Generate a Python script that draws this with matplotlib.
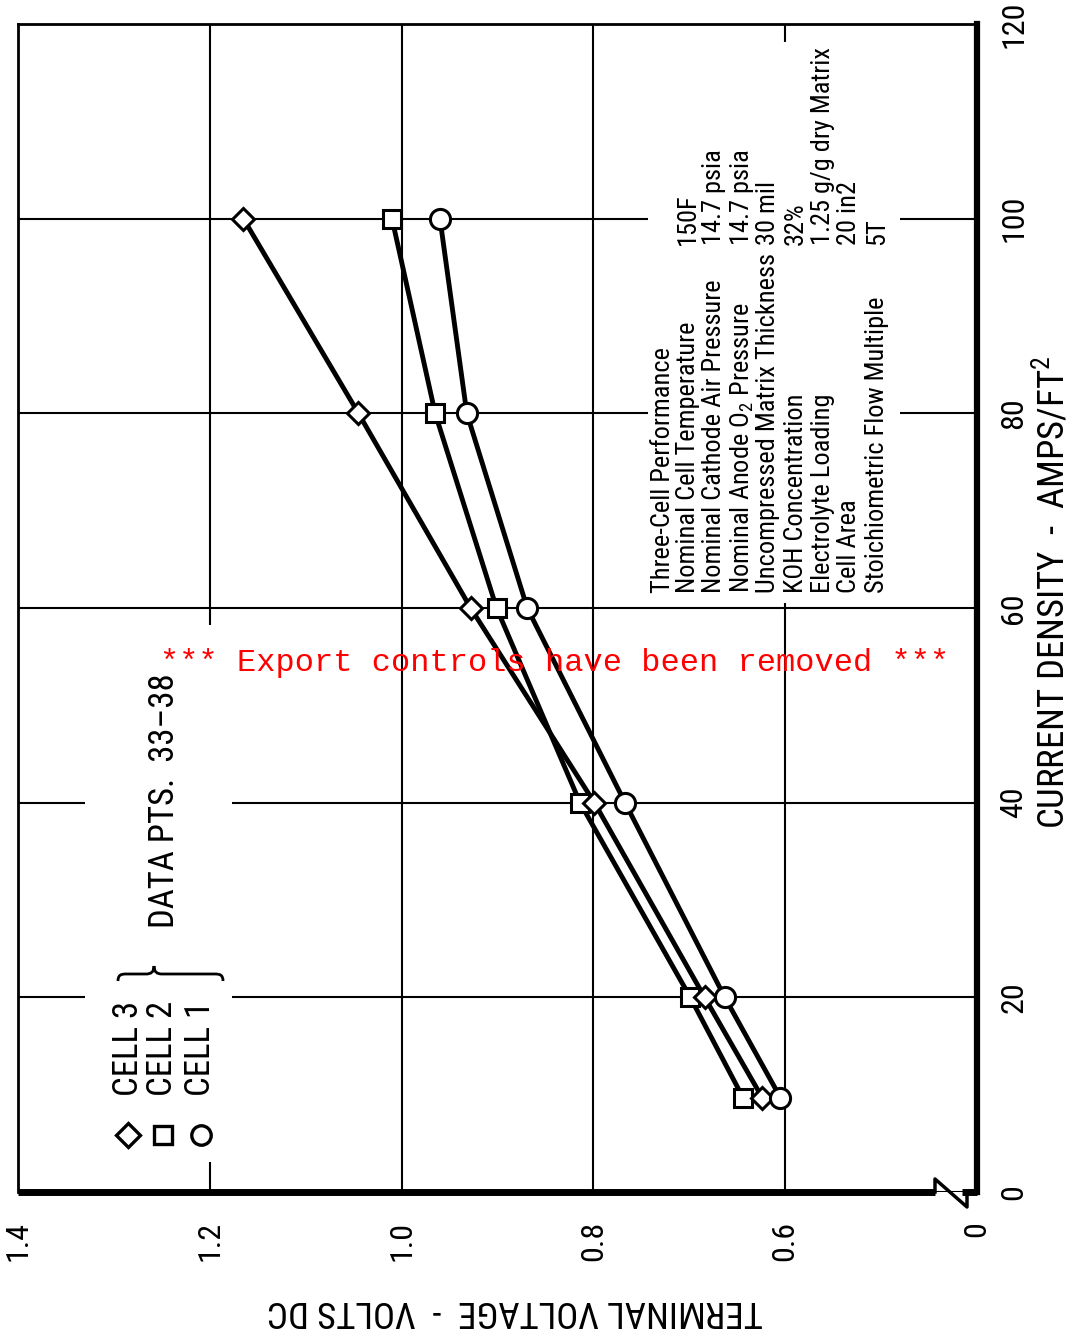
import matplotlib
matplotlib.use('Agg')
import matplotlib.pyplot as plt
from matplotlib import font_manager
from matplotlib.lines import Line2D
from matplotlib.patches import Rectangle, PathPatch
from matplotlib.path import Path

# current density (amps/ft2) and terminal voltage of each cell
current = [100, 80, 60, 40, 20, 9.7]
cell3 = [1.165, 1.045, 0.928, 0.799, 0.684, 0.624]
cell2 = [1.010, 0.965, 0.901, 0.814, 0.699, 0.644]
cell1 = [0.960, 0.932, 0.869, 0.767, 0.663, 0.605]

volt_ticks = [1.4, 1.2, 1.0, 0.8, 0.6, 0.4]
volt_labels = ['1.4', '1.2', '1.0', '0.8', '0.6', '0']
amp_ticks = [0, 20, 40, 60, 80, 100, 120]

spec_labels = ['Three-Cell Performance', 'Nominal Cell Temperature',
               'Nominal Cathode Air Pressure', 'Nominal Anode O$_2$ Pressure',
               'Uncompressed Matrix Thickness', 'KOH Concentration',
               'Electrolyte Loading', 'Cell Area', 'Stoichiometric Flow Multiple']
spec_values = ['', '150F', '14.7 psia', '14.7 psia', '30 mil', '32%',
               '1.25 g/g dry Matrix', '20 in2', '5T']

W, H = 1074, 1333
L, R, T, B = 18, 977, 24, 1192

names = {f.name for f in font_manager.fontManager.ttflist}
FONT = 'DejaVu Sans'
for cand in ['Liberation Sans Narrow', 'Roboto Condensed', 'Open Sans Condensed', 'Lato']:
    if cand in names:
        FONT = cand
        break
plt.rcParams['font.family'] = FONT
plt.rcParams['mathtext.fontset'] = 'custom'
plt.rcParams['mathtext.rm'] = FONT
plt.rcParams['mathtext.it'] = FONT
plt.rcParams['mathtext.bf'] = FONT


def fx(px):
    return px / W


def fy(py):
    return 1 - py / H


def axy(px, py):
    return (px - L) / (R - L), (B - py) / (B - T)


fig = plt.figure(figsize=(W / 100, H / 100), dpi=100)
ax = fig.add_axes([fx(L), fy(B), (R - L) / W, (B - T) / H])
ax.set_xlim(1.4, 0.4)
ax.set_ylim(0, 120)

ax.set_xticks(volt_ticks)
ax.set_xticklabels(volt_labels, rotation=90)
ax.yaxis.tick_right()
ax.set_yticks(amp_ticks)
ax.set_yticklabels([str(v) for v in amp_ticks], rotation=90, va='center')
ax.tick_params(axis='x', length=0, labelsize=23, pad=21)
ax.tick_params(axis='y', length=0, labelsize=23, pad=16)
ax.set_axisbelow(True)
ax.grid(True, color='black', lw=1.5)

ax.spines['left'].set_linewidth(2)
ax.spines['top'].set_linewidth(2)
ax.spines['right'].set_linewidth(4.5)
ax.spines['bottom'].set_visible(False)

# bottom axis with the break near zero volts
x0, y0 = axy(L, B)
xa, _ = axy(935, B)
xb, _ = axy(962, B)
ax.plot([x0, xa], [y0, y0], color='black', lw=5, transform=ax.transAxes,
        clip_on=False, solid_capstyle='butt', zorder=6)
ax.plot([xb, 1.0], [y0, y0], color='black', lw=5, transform=ax.transAxes,
        clip_on=False, solid_capstyle='butt', zorder=6)
zig = [axy(935, 1192), axy(935, 1179), axy(967, 1207), axy(967, 1192)]
ax.plot([p[0] for p in zig], [p[1] for p in zig], color='black', lw=2.5,
        transform=ax.transAxes, clip_on=False, zorder=6)

# blank areas behind the legend and the test conditions
for (px0, py0, px1, py1) in [(85, 625, 232, 1162), (648, 42, 900, 603)]:
    a0 = axy(px0, py1)
    a1 = axy(px1, py0)
    ax.add_patch(Rectangle(a0, a1[0] - a0[0], a1[1] - a0[1], transform=ax.transAxes,
                           fc='white', ec='none', zorder=1))

series = [(cell2, 's', 13), (cell3, 'D', 11.5), (cell1, 'o', 14.5)]
for vals, mk, ms in series:
    ax.plot(vals, current, color='black', lw=3.5, zorder=2)
for i, (vals, mk, ms) in enumerate(series):
    ax.plot(vals, current, ls='none', marker=mk, ms=ms, mfc='white', mec='black',
            mew=2.2, zorder=3 + i)

# legend
legend_rows = [('D', 12, 128, 'CELL 3'), ('s', 13.5, 163, 'CELL 2'), ('o', 14, 201, 'CELL 1')]
for mk, ms, px, label in legend_rows:
    fig.add_artist(Line2D([fx(px)], [fy(1135)], transform=fig.transFigure, marker=mk,
                          ms=ms, mfc='white', mec='black', mew=2.4, ls='none'))
    fig.text(fx(px), fy(1096), label, rotation=90, ha='center', va='bottom', fontsize=25)

bv = [(118, 981), (118, 975), (121, 974), (126, 974), (146, 974),
      (151, 974), (154, 972), (154, 966), (154, 972), (157, 974), (162, 974),
      (215, 974), (220, 974), (223, 975), (223, 981)]
bc = [Path.MOVETO, Path.CURVE4, Path.CURVE4, Path.CURVE4, Path.LINETO,
      Path.CURVE4, Path.CURVE4, Path.CURVE4, Path.CURVE4, Path.CURVE4, Path.CURVE4,
      Path.LINETO, Path.CURVE4, Path.CURVE4, Path.CURVE4]
fig.add_artist(PathPatch(Path([(fx(x), fy(y)) for x, y in bv], bc), fill=False,
                         lw=2, ec='black', transform=fig.transFigure))
fig.text(fx(165), fy(928), 'DATA PTS.  33–38', rotation=90, ha='center', va='bottom',
         fontsize=25)

# test conditions
row_x = [663, 688, 714, 742, 768, 796, 823, 849, 877]
for px, lab, val in zip(row_x, spec_labels, spec_values):
    fig.text(fx(px), fy(593), lab, rotation=90, ha='center', va='bottom', fontsize=19)
    if val:
        fig.text(fx(px), fy(245), val, rotation=90, ha='center', va='bottom', fontsize=19)

fig.text(fx(1072), fy(592), 'CURRENT DENSITY  -  AMPS/FT$^2$', rotation=90,
         ha='right', va='center', fontsize=26.5)
fig.text(fx(515), fy(1311), 'TERMINAL VOLTAGE  -  VOLTS DC', rotation=180,
         ha='center', va='center', fontsize=26.5)

fig.text(fx(555), fy(663), '*** Export controls have been removed ***', color='#ff0000',
         family='Liberation Mono', fontsize=23, ha='center', va='center', zorder=10)

fig.savefig('out.png', dpi=100)
